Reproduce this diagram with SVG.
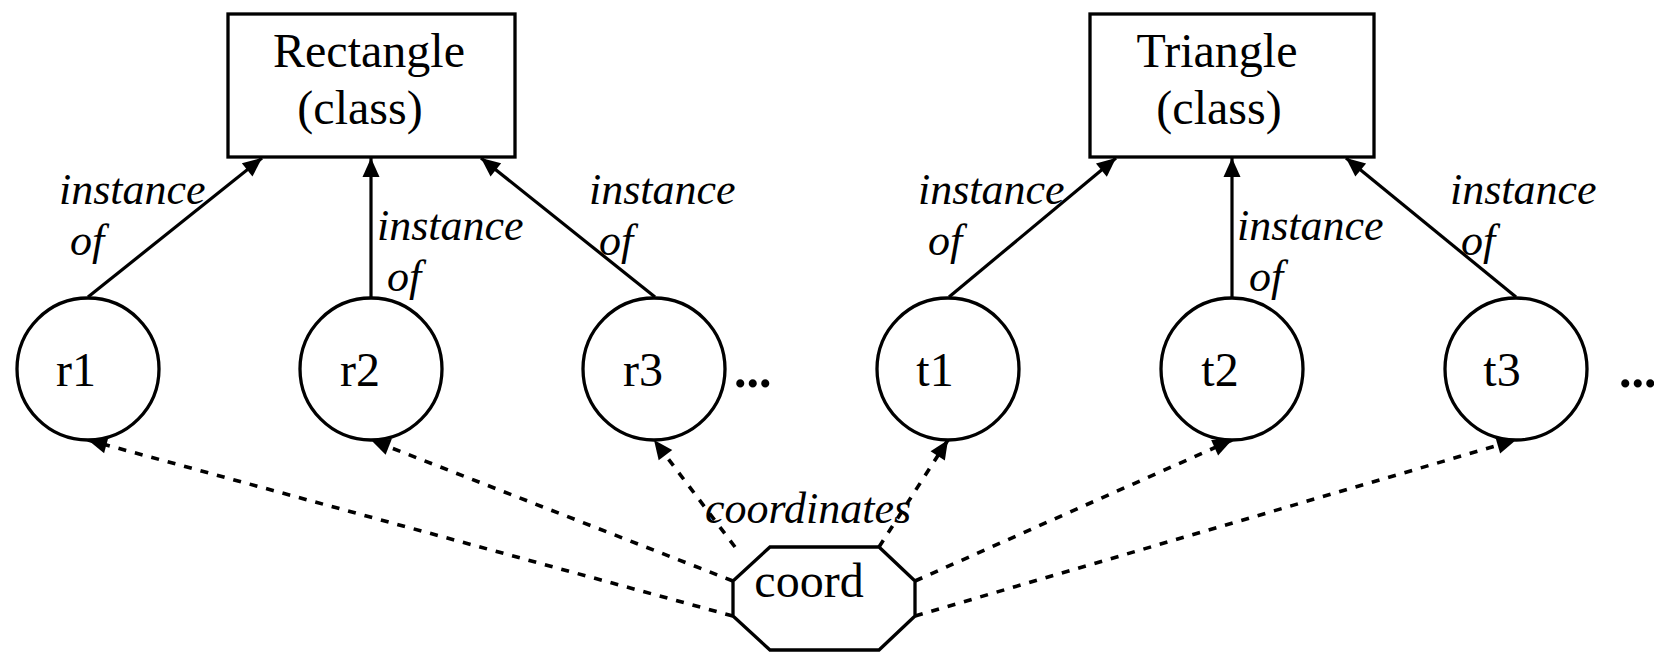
<svg xmlns="http://www.w3.org/2000/svg" width="1654" height="652" viewBox="0 0 1654 652">
<style>
.shape{fill:#fff;stroke:#000;stroke-width:3.3}
.t{font-family:"Liberation Serif","Times New Roman",serif;font-size:48px;fill:#000}
.lbl{font-family:"Liberation Serif","Times New Roman",serif;font-size:44px;font-style:italic;fill:#000}
.dots{font-family:"Liberation Serif","Times New Roman",serif;font-size:50px;font-weight:bold;fill:#000}
.inst{stroke:#000;stroke-width:3.2;fill:none;marker-end:url(#ah)}
.crd{stroke:#000;stroke-width:3.6;fill:none;stroke-dasharray:8 9;marker-end:url(#ah)}
</style>
<defs>
<marker id="ah" markerUnits="userSpaceOnUse" markerWidth="24" markerHeight="20" viewBox="-20 -10 22 20" refX="0" refY="0" orient="auto">
<path d="M0,0 L-19,-8.5 L-19,8.5 Z" fill="#000"/>
</marker>
</defs>
<rect width="1654" height="652" fill="#fff"/>
<g id="connectors">
<line class="inst" x1="88" y1="297" x2="262" y2="158"/>
<line class="inst" x1="371" y1="297" x2="371" y2="158"/>
<line class="inst" x1="655" y1="297" x2="481" y2="158"/>
<line class="inst" x1="949" y1="297" x2="1116" y2="158"/>
<line class="inst" x1="1232" y1="297" x2="1232" y2="158"/>
<line class="inst" x1="1516" y1="297" x2="1346" y2="158"/>
<line class="crd" x1="733" y1="616" x2="88" y2="440"/>
<line class="crd" x1="733" y1="581" x2="371" y2="440"/>
<line class="crd" x1="735" y1="547" x2="654" y2="440"/>
<line class="crd" x1="879" y1="547" x2="948" y2="440"/>
<line class="crd" x1="915" y1="581" x2="1232" y2="440"/>
<line class="crd" x1="915" y1="616" x2="1516" y2="440"/>
<text class="lbl" x="59" y="204">instance</text>
<text class="lbl" x="70" y="255">of</text>
<text class="lbl" x="377" y="240">instance</text>
<text class="lbl" x="387" y="291">of</text>
<text class="lbl" x="589" y="204">instance</text>
<text class="lbl" x="599" y="255">of</text>
<text class="lbl" x="918" y="204">instance</text>
<text class="lbl" x="928" y="255">of</text>
<text class="lbl" x="1237" y="240">instance</text>
<text class="lbl" x="1249" y="291">of</text>
<text class="lbl" x="1450" y="204">instance</text>
<text class="lbl" x="1461" y="255">of</text>
<text class="lbl" x="705" y="523">coordinates</text>
</g>
<g id="rectangle">
<rect class="shape" x="228" y="14" width="287" height="143"/>
<text class="t" x="369" y="67" text-anchor="middle">Rectangle</text>
<text class="t" x="360" y="124" text-anchor="middle">(class)</text>
</g>
<g id="triangle">
<rect class="shape" x="1090" y="14" width="284" height="143"/>
<text class="t" x="1217" y="67" text-anchor="middle">Triangle</text>
<text class="t" x="1219" y="124" text-anchor="middle">(class)</text>
</g>
<g id="r1">
<circle class="shape" cx="88" cy="369" r="71"/>
<text class="t" x="76" y="386" text-anchor="middle">r1</text>
</g>
<g id="r2">
<circle class="shape" cx="371" cy="369" r="71"/>
<text class="t" x="360" y="386" text-anchor="middle">r2</text>
</g>
<g id="r3">
<circle class="shape" cx="654" cy="369" r="71"/>
<text class="t" x="643" y="386" text-anchor="middle">r3</text>
</g>
<text class="dots" x="734" y="387">...</text>
<g id="t1">
<circle class="shape" cx="948" cy="369" r="71"/>
<text class="t" x="935" y="386" text-anchor="middle">t1</text>
</g>
<g id="t2">
<circle class="shape" cx="1232" cy="369" r="71"/>
<text class="t" x="1220" y="386" text-anchor="middle">t2</text>
</g>
<g id="t3">
<circle class="shape" cx="1516" cy="369" r="71"/>
<text class="t" x="1502" y="386" text-anchor="middle">t3</text>
</g>
<text class="dots" x="1619" y="387">...</text>
<g id="coord">
<polygon class="shape" points="770,547 879,547 915,581 915,616 879,650 770,650 733,616 733,581"/>
<text class="t" x="809" y="597" text-anchor="middle">coord</text>
</g>
</svg>
